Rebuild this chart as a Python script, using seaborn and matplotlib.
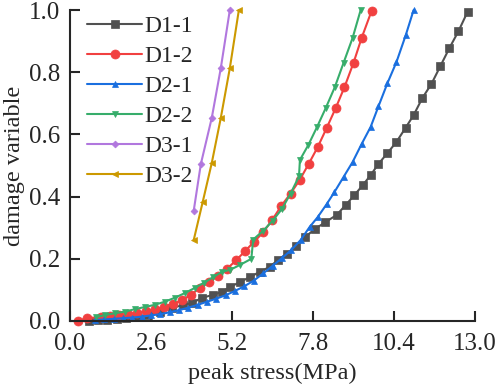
import numpy as np
import pandas as pd
import seaborn as sns
from matplotlib import pyplot as plt

# D1-1 (dark grey squares)
x_d11 = [0.6, 0.9, 1.2, 1.5, 1.8, 2.15, 2.5, 2.88, 3.27, 3.62, 3.91, 4.23, 4.58, 4.87,
         5.13, 5.45, 5.77, 6.09, 6.41, 6.67, 6.95, 7.25, 7.55, 7.85, 8.2, 8.56, 8.85,
         9.13, 9.4, 9.65, 9.9, 10.19, 10.48, 10.77, 11.03, 11.31, 11.6, 11.89, 12.18,
         12.47, 12.76]
y_d11 = [0.0, 0.002, 0.004, 0.006, 0.009, 0.013, 0.019, 0.029, 0.042, 0.051, 0.058, 0.074,
         0.084, 0.093, 0.109, 0.125, 0.141, 0.158, 0.174, 0.196, 0.215, 0.24, 0.27, 0.295,
         0.318, 0.341, 0.373, 0.405, 0.437, 0.469, 0.505, 0.54, 0.576, 0.621, 0.662, 0.717,
         0.762, 0.82, 0.878, 0.932, 0.994]

# D1-2 (red circles)
x_d12 = [0.25, 0.55, 0.98, 1.27, 1.56, 1.85, 2.14, 2.43, 2.72, 3.01, 3.3, 3.59, 3.88, 4.17,
         4.46, 4.75, 5.04, 5.33, 5.62, 5.91, 6.2, 6.49, 6.78, 7.08, 7.37, 7.66, 7.95, 8.24,
         8.53, 8.81, 9.1, 9.36, 9.68]
y_d12 = [0.0, 0.01, 0.012, 0.015, 0.019, 0.022, 0.026, 0.031, 0.037, 0.045, 0.055, 0.066,
         0.085, 0.105, 0.125, 0.145, 0.168, 0.195, 0.225, 0.255, 0.285, 0.325, 0.37, 0.41,
         0.453, 0.505, 0.559, 0.621, 0.685, 0.752, 0.83, 0.91, 0.997]

# D2-1 (blue triangles)
x_d21 = [0.8, 1.1, 1.4, 1.7, 2.0, 2.3, 2.6, 2.9, 3.2, 3.5, 3.8, 4.1, 4.4, 4.7, 5.0, 5.3,
         5.6, 5.9, 6.2, 6.5, 6.8, 7.1, 7.4, 7.69, 7.95, 8.24, 8.49, 8.78, 9.07, 9.36, 9.65,
         9.9, 10.19, 10.48, 10.78, 11.03]
y_d21 = [0.003, 0.005, 0.007, 0.009, 0.011, 0.014, 0.018, 0.022, 0.028, 0.035, 0.043, 0.052,
         0.062, 0.072, 0.083, 0.097, 0.112, 0.13, 0.153, 0.177, 0.202, 0.228, 0.26, 0.302,
         0.334, 0.376, 0.415, 0.463, 0.511, 0.569, 0.624, 0.69, 0.765, 0.833, 0.92, 1.0]

# D2-2 (green inverted triangles)
x_d22 = [0.85, 1.12, 1.44, 1.76, 2.08, 2.4, 2.72, 3.04, 3.37, 3.69, 4.0, 4.3, 4.58, 4.87,
         5.15, 5.45, 5.82, 5.88, 6.2, 6.5, 6.8, 7.08, 7.35, 7.38, 7.65, 7.93, 8.21, 8.5,
         8.78, 9.07, 9.33]
y_d22 = [0.013, 0.019, 0.025, 0.03, 0.038, 0.045, 0.052, 0.062, 0.075, 0.09, 0.106, 0.123,
         0.14, 0.158, 0.165, 0.18, 0.2, 0.262, 0.29, 0.322, 0.36, 0.41, 0.465, 0.518, 0.566,
         0.624, 0.685, 0.752, 0.83, 0.91, 1.0]

# D3-1 (purple diamonds)
x_d31 = [3.97, 4.2, 4.55, 4.84, 5.13]
y_d31 = [0.354, 0.505, 0.653, 0.813, 1.0]

# D3-2 (orange left triangles)
x_d32 = [3.97, 4.26, 4.55, 4.84, 5.13, 5.42]
y_d32 = [0.26, 0.383, 0.508, 0.653, 0.813, 1.0]

series = [
    ("D1-1", x_d11, y_d11, "#515151", "s", 6.0),
    ("D1-2", x_d12, y_d12, "#F14040", "o", 6.5),
    ("D2-1", x_d21, y_d21, "#1A6FDF", "^", 4.5),
    ("D2-2", x_d22, y_d22, "#37AD6B", "v", 4.5),
    ("D3-1", x_d31, y_d31, "#B177DE", "D", 3.5),
    ("D3-2", x_d32, y_d32, "#CC9900", "<", 4.0),
]

x_ticks = [0.0, 2.6, 5.2, 7.8, 10.4, 13.0]
y_ticks = [0.0, 0.2, 0.4, 0.6, 0.8, 1.0]

sns.set_style("ticks")
plt.rcParams['font.family'] = ['Liberation Serif', 'DejaVu Serif']

fig = plt.figure(figsize=(4.98, 3.86), dpi=100)
ax = fig.add_axes([0.1406, 0.1684, 0.8132, 0.8056])

for name, xs, ys, col, mk, ms in series:
    df = pd.DataFrame({"x": xs, "y": ys})
    sns.lineplot(data=df, x="x", y="y", ax=ax, color=col, marker=mk, markersize=ms,
                 markeredgecolor=col, markeredgewidth=0.5, linewidth=1.5,
                 sort=False, estimator=None, label=name, clip_on=False)

ax.set_xlim(0, 13.0)
ax.set_ylim(0, 1.0)
ax.set_xticks(x_ticks)
ax.set_xticklabels([f"{v:.1f}" for v in x_ticks])
ax.set_yticks(y_ticks)
ax.set_yticklabels([f"{v:.1f}" for v in y_ticks])
ax.tick_params(direction="in", length=7, width=1.5, labelsize=18, pad=7)
ax.tick_params(axis="x", pad=9)
for s in ["left", "bottom"]:
    ax.spines[s].set_linewidth(1.5)
sns.despine(ax=ax)

ax.set_xlabel("peak stress(MPa)", fontsize=17.5, labelpad=5)
ax.set_ylabel("damage variable", fontsize=17.5, labelpad=3)

ax.legend(loc="upper left", bbox_to_anchor=(0.03, 0.998), frameon=False, fontsize=17,
          handlelength=2.35, handletextpad=0.1, labelspacing=0.36, borderaxespad=0,
          borderpad=0.2)

plt.savefig("out.png", dpi=100)
